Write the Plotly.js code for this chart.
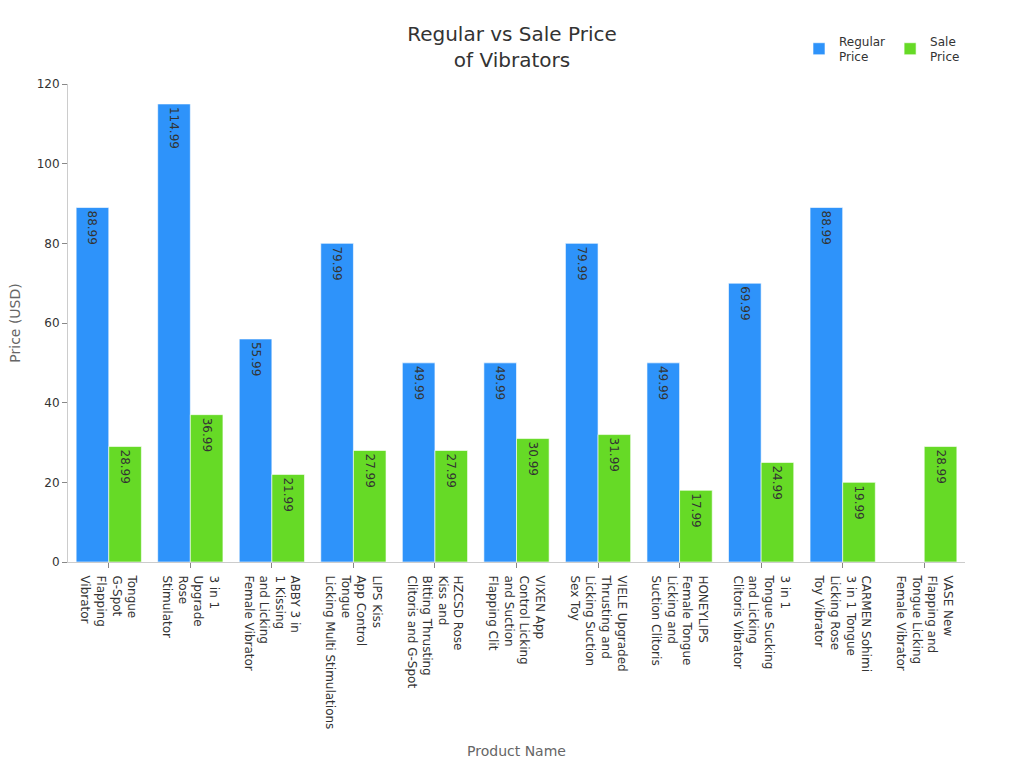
<!DOCTYPE html>
<html>
<head>
<meta charset="utf-8">
<script src="https://cdn.plot.ly/plotly-3.0.1.min.js"></script>
<style>html,body{margin:0;padding:0;background:#fff}#chart{width:1024px;height:768px}</style>
</head>
<body>
<div id="chart"></div>
<script>
const products = [
  "Tongue<br>G-Spot<br>Flapping<br>Vibrator",
  "3 in 1<br>Upgrade<br>Rose<br>Stimulator",
  "ABBY 3 in<br>1 Kissing<br>and Licking<br>Female Vibrator",
  "LIPS Kiss<br>App Control<br>Tongue<br>Licking Multi Stimulations",
  "HZCSD Rose<br>Kiss and<br>Bitting Thrusting<br>Clitoris and G-Spot",
  "VIXEN App<br>Control Licking<br>and Suction<br>Flapping Clit",
  "VIELE Upgraded<br>Thrusting and<br>Licking Suction<br>Sex Toy",
  "HONEYLIPS<br>Female Tongue<br>Licking and<br>Suction Clitoris",
  "3 in 1<br>Tongue Sucking<br>and Licking<br>Clitoris Vibrator",
  "CARMEN Sohimi<br>3 in 1 Tongue<br>Licking Rose<br>Toy Vibrator",
  "VASE New<br>Flapping and<br>Tongue Licking<br>Female Vibrator"
];
const regularPrice = [88.99, 114.99, 55.99, 79.99, 49.99, 49.99, 79.99, 49.99, 69.99, 88.99, null];
const salePrice = [28.99, 36.99, 21.99, 27.99, 27.99, 30.99, 31.99, 17.99, 24.99, 19.99, 28.99];
const seriesNames = ["Regular<br>Price", "Sale<br>Price"];
const seriesColors = ["#2E93FA", "#66DA26"];

const font = "DejaVu Sans, sans-serif";
function fmt(v){ return v === null ? "" : v.toFixed(2); }

const traces = [regularPrice, salePrice].map((vals, i) => ({
  type: "bar",
  name: seriesNames[i],
  x: products,
  y: vals,
  text: vals.map(fmt),
  textposition: "inside",
  insidetextanchor: "end",
  textangle: 90,
  textfont: {family: font, size: 12, color: "#333"},
  marker: {color: seriesColors[i], line: {color: "rgba(255,255,255,0.6)", width: 1}},
  hoverinfo: "x+y"
}));

const layout = {
  width: 1024, height: 768,
  font: {family: font, color: "#333"},
  paper_bgcolor: "#fff", plot_bgcolor: "#fff",
  margin: {l: 68, r: 59, t: 84, b: 206},
  barmode: "group",
  bargap: 0.2,
  bargroupgap: 0,
  title: {text: "Regular vs Sale Price<br>of Vibrators", x: 0.5, xanchor: "center", y: 0.947, yanchor: "top",
          font: {family: font, size: 20, color: "#333"}},
  showlegend: true,
  legend: {orientation: "h", x: 1, xanchor: "right", y: 1.12, yanchor: "top",
           font: {family: font, size: 12, color: "#333"}, traceorder: "normal"},
  xaxis: {
    type: "category",
    tickangle: 90,
    tickfont: {family: font, size: 12, color: "#333"},
    showline: true, linecolor: "#ccc", linewidth: 1,
    ticks: "outside", ticklen: 5, tickcolor: "#888",
    ticklabelstandoff: 5,
    showgrid: false,
    title: {text: "Product Name", font: {family: font, size: 14, color: "#666"}, standoff: 17}
  },
  yaxis: {
    range: [0, 120],
    dtick: 20,
    tickfont: {family: font, size: 12, color: "#333"},
    showline: true, linecolor: "#ccc", linewidth: 1,
    ticks: "outside", ticklen: 5, tickcolor: "#888",
    showgrid: false, zeroline: false,
    title: {text: "Price (USD)", font: {family: font, size: 14, color: "#666"}, standoff: 12}
  }
};

Plotly.newPlot("chart", traces, layout, {displayModeBar: false, staticPlot: true});
</script>
</body>
</html>
